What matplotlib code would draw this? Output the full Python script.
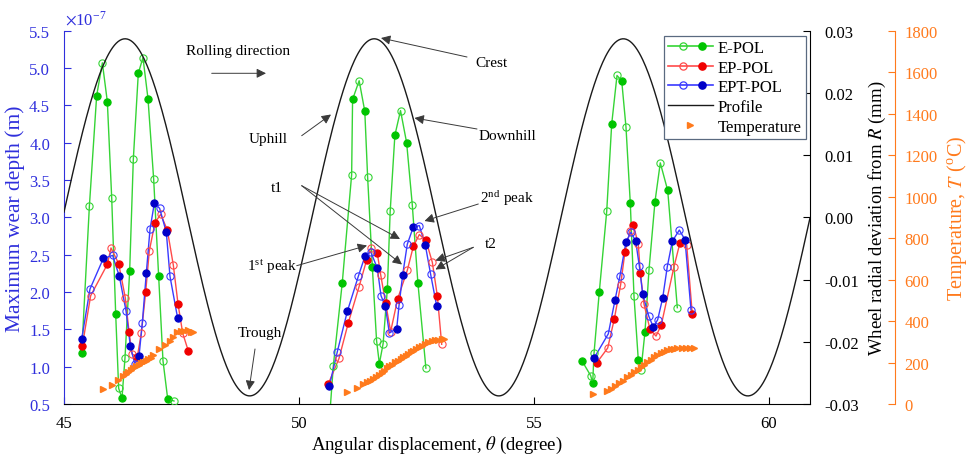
import numpy as np
import matplotlib
matplotlib.use("Agg")
import matplotlib.pyplot as plt
from matplotlib.lines import Line2D
from matplotlib.legend_handler import HandlerBase

plt.rcParams['font.family'] = ['Liberation Serif', 'DejaVu Serif']
plt.rcParams['mathtext.fontset'] = 'stix'
plt.rcParams['axes.unicode_minus'] = False

# ---------------- data (wear depth in units of 1e-7 m) ----------------
epol_theta = [
    [45.376, 45.54, 45.695, 45.816, 45.922, 46.015, 46.1, 46.163, 46.234, 46.298,
     46.397, 46.475, 46.581, 46.68, 46.787, 46.908, 47.014, 47.106, 47.206, 47.34],
    [50.66, 50.73, 50.92, 51.12, 51.14, 51.28, 51.40, 51.46, 51.56, 51.65,
     51.71, 51.79, 51.88, 51.94, 52.04, 52.16, 52.29, 52.41, 52.53, 52.70],
    [56.028, 56.206, 56.249, 56.277, 56.389, 56.547, 56.653, 56.766, 56.866, 56.957,
     57.049, 57.128, 57.219, 57.277, 57.362, 57.447, 57.574, 57.687, 57.845, 58.049],
]
epol_wear = [
    [1.18, 3.15, 4.63, 5.07, 4.55, 3.26, 1.70, 0.71, 0.58, 1.12,
     2.28, 3.78, 4.93, 5.14, 4.59, 3.51, 2.21, 1.08, 0.57, 0.54],
    [0.40, 1.01, 2.12, 3.57, 4.58, 4.83, 4.42, 3.54, 2.34, 1.35,
     1.04, 1.31, 2.04, 3.08, 4.10, 4.43, 4.00, 3.17, 2.12, 0.98],
    [1.07, 0.88, 0.78, 1.18, 2.00, 3.08, 4.25, 4.90, 4.83, 4.21,
     3.19, 1.94, 1.09, 0.96, 1.47, 2.30, 3.21, 3.73, 3.36, 1.79],
]

eppol_theta = [
    [45.39, 45.567, 45.922, 46.0, 46.163, 46.305, 46.383, 46.447, 46.56, 46.645,
     46.738, 46.815, 46.936, 47.057, 47.199, 47.326, 47.426, 47.525, 47.645],
    [50.624, 50.851, 51.05, 51.277, 51.44, 51.525, 51.666, 51.738, 51.844, 51.95,
     52.10, 52.304, 52.432, 52.56, 52.702, 52.836, 52.943, 53.036],
    [56.333, 56.568, 56.709, 56.844, 56.936, 57.043, 57.113, 57.219, 57.262, 57.34,
     57.468, 57.596, 57.709, 57.979, 58.106, 58.249, 58.368],
]
eppol_wear = [
    [1.28, 1.95, 2.37, 2.59, 2.38, 1.92, 1.47, 1.17, 1.13, 1.45,
     2.00, 2.55, 2.93, 3.04, 2.83, 2.36, 1.84, 1.45, 1.21],
    [0.77, 1.11, 1.59, 2.07, 2.43, 2.59, 2.52, 2.23, 1.85, 1.47,
     1.91, 2.29, 2.61, 2.77, 2.69, 2.40, 1.95, 1.30],
    [1.05, 1.25, 1.64, 2.10, 2.54, 2.82, 2.90, 2.64, 2.26, 1.84,
     1.50, 1.41, 1.56, 2.34, 2.66, 2.63, 1.70],
]

eptpol_theta = [
    [45.376, 45.553, 45.837, 46.035, 46.177, 46.319, 46.411, 46.504, 46.596, 46.667,
     46.752, 46.83, 46.922, 47.035, 47.177, 47.255, 47.418],
    [50.645, 50.815, 51.028, 51.262, 51.404, 51.525, 51.666, 51.745, 51.837, 51.922,
     52.079, 52.128, 52.206, 52.304, 52.432, 52.56, 52.687, 52.80, 52.93],
    [56.283, 56.581, 56.723, 56.83, 56.957, 57.064, 57.164, 57.241, 57.313, 57.44,
     57.539, 57.632, 57.738, 57.836, 57.943, 58.092, 58.213, 58.34],
]
eptpol_wear = [
    [1.37, 2.04, 2.45, 2.49, 2.21, 1.75, 1.28, 1.04, 1.14, 1.59,
     2.26, 2.84, 3.19, 3.12, 2.80, 2.21, 1.65],
    [0.74, 1.20, 1.74, 2.21, 2.48, 2.54, 2.32, 1.95, 1.81, 1.45,
     1.51, 1.82, 2.23, 2.64, 2.87, 2.89, 2.63, 2.24, 1.81],
    [1.12, 1.44, 1.89, 2.22, 2.67, 2.80, 2.68, 2.35, 1.97, 1.68,
     1.53, 1.63, 1.92, 2.34, 2.68, 2.83, 2.70, 1.76],
]

temp_theta = [
    [45.823, 46.015, 46.156, 46.262, 46.319, 46.369, 46.426, 46.475, 46.532, 46.589,
     46.638, 46.687, 46.745, 46.794, 46.844, 46.901, 47.028, 47.149, 47.255, 47.326,
     47.411, 47.482, 47.553, 47.631, 47.695, 47.751],
    [51.015, 51.241, 51.355, 51.44, 51.51, 51.581, 51.638, 51.709, 51.759, 51.809,
     51.866, 51.922, 51.972, 52.043, 52.113, 52.164, 52.22, 52.277, 52.326, 52.377,
     52.432, 52.489, 52.546, 52.61, 52.681, 52.751, 52.823, 52.894, 52.964, 53.036, 53.085],
    [56.262, 56.547, 56.632, 56.723, 56.815, 56.9, 56.985, 57.064, 57.134, 57.206,
     57.277, 57.34, 57.411, 57.483, 57.553, 57.623, 57.696, 57.766, 57.836, 57.909,
     57.979, 58.049, 58.142, 58.234, 58.319, 58.404],
]
temp_value = [
    [72, 92, 117, 133, 145, 153, 162, 172, 182, 188,
     198, 204, 209, 217, 223, 236, 265, 286, 305, 321,
     346, 350, 350, 355, 346, 349],
    [59, 76, 96, 105, 112, 121, 132, 141, 149, 158,
     172, 185, 190, 201, 207, 217, 225, 233, 241, 249,
     257, 265, 273, 281, 289, 297, 304, 307, 310, 313, 313],
    [48, 64, 72, 88, 100, 112, 129, 141, 153, 165,
     177, 190, 201, 214, 225, 236, 244, 252, 259, 264,
     267, 269, 269, 269, 270, 270],
]

# wheel profile (polygonal wear wave): amplitude (mm), wavelength (deg), crest position (deg)
profile_amplitude = 0.0287
profile_wavelength = 5.3
profile_crest = 46.3

x_ticks = [45, 50, 55, 60]
wear_ticks = [0.5, 1.0, 1.5, 2.0, 2.5, 3.0, 3.5, 4.0, 4.5, 5.0, 5.5]
dev_ticks = [-0.03, -0.02, -0.01, 0.00, 0.01, 0.02, 0.03]
temp_ticks = [0, 200, 400, 600, 800, 1000, 1200, 1400, 1600, 1800]

# ---------------- styling ----------------
W, H = 968, 460
GREEN_L, GREEN_M = '#35d435', '#00c400'
RED_L, RED_M = '#ff4a4a', '#f00000'
BLUE_L, BLUE_M = '#3a3aff', '#0000c8'
ORANGE = '#ff7a1c'
AXBLUE = '#2f2fdc'
FS = 12
MS = 5.2

fig = plt.figure(figsize=(W / 100, H / 100), dpi=100)
ax = fig.add_axes([64 / W, 1 - 405 / H, (810 - 64) / W, (405 - 31.7) / H])
ax2 = ax.twinx()
ax3 = ax.twinx()

def draw_series(thetas, wears, lc, mc):
    h = None
    for th, wv in zip(thetas, wears):
        th = np.asarray(th); wv = np.asarray(wv)
        h, = ax.plot(th, wv, '-', color=lc, lw=1.0, zorder=2)
        ax.plot(th[0::2], wv[0::2], 'o', ls='none', ms=MS, mfc=mc, mec=mc, mew=0.8, zorder=3)
        ax.plot(th[1::2], wv[1::2], 'o', ls='none', ms=MS, mfc='none', mec=lc, mew=0.8, zorder=3)
    return h

h_e = draw_series(epol_theta, epol_wear, GREEN_L, GREEN_M)
h_ep = draw_series(eppol_theta, eppol_wear, RED_L, RED_M)
h_ept = draw_series(eptpol_theta, eptpol_wear, BLUE_L, BLUE_M)

ax.set_xlim(45, 45 + (810 - 64) / 47)
ax.set_ylim(0.5, 5.5)
ax.set_xticks(x_ticks)
ax.set_yticks(wear_ticks)
ax.set_yticklabels(['%.1f' % v for v in wear_ticks])
ax.tick_params(axis='x', direction='in', length=5, labelsize=FS, pad=8, colors='black')
ax.tick_params(axis='y', direction='in', length=5, labelsize=FS, pad=10, colors=AXBLUE)
ax.spines['left'].set_color(AXBLUE)
ax.spines['top'].set_visible(False)
ax.spines['right'].set_visible(False)
ax.set_xlabel(r'Angular displacement, $\theta$ (degree)', fontsize=13.5, labelpad=2)
ax.set_ylabel('Maximum wear depth (m)', fontsize=15.5, color=AXBLUE, labelpad=3)
fig.text(65 / W, 1 - 29 / H, r'$\times$10$^{\mathregular{-7}}$', color=AXBLUE, fontsize=12, va='bottom', ha='left')

# profile
theta_grid = np.linspace(45, 45 + (810 - 64) / 47, 800)
profile = profile_amplitude * np.cos(2 * np.pi * (theta_grid - profile_crest) / profile_wavelength)
h_prof, = ax2.plot(theta_grid, profile, color='#1a1a1a', lw=1.0)
ax2.set_ylim(-0.03, 0.03)
ax2.set_yticks(dev_ticks)
ax2.set_yticklabels(['%.2f' % v for v in dev_ticks])
ax2.tick_params(axis='y', direction='in', length=5, labelsize=FS, pad=10, colors='black')
for s in ['top', 'left', 'bottom']:
    ax2.spines[s].set_visible(False)
ax2.set_ylabel(r'Wheel radial deviation from $R$ (mm)', fontsize=13.5, labelpad=6)

# temperature
ax3.spines['right'].set_position(('axes', (895 - 64) / (810 - 64)))
for s in ['top', 'left', 'bottom']:
    ax3.spines[s].set_visible(False)
ax3.spines['right'].set_color(ORANGE)
h_temp = None
for th, tv in zip(temp_theta, temp_value):
    h_temp, = ax3.plot(th, tv, '>', ls='none', ms=4.6, color=ORANGE, mec=ORANGE)
ax3.set_ylim(0, 1800)
ax3.set_yticks(temp_ticks)
ax3.tick_params(axis='y', direction='in', length=5, labelsize=FS, pad=7, colors=ORANGE)
ax3.set_ylabel(r'Temperature, $T$ ($^{\mathregular{o}}$C)', fontsize=14.5, color=ORANGE, labelpad=5)

# legend
class TwoMarkerHandler(HandlerBase):
    def __init__(self, lc, mc):
        super().__init__()
        self.lc, self.mc = lc, mc
    def create_artists(self, legend, orig_handle, xdescent, ydescent, width, height, fontsize, trans):
        y = height / 2 - ydescent
        x0 = -xdescent
        ln = Line2D([x0, x0 + width], [y, y], color=self.lc, lw=1.2)
        m1 = Line2D([x0 + width * 0.33], [y], marker='o', ms=MS, mfc='none', mec=self.lc, mew=0.9, ls='none')
        m2 = Line2D([x0 + width * 0.75], [y], marker='o', ms=MS, mfc=self.mc, mec=self.mc, ls='none')
        for a in (ln, m1, m2):
            a.set_transform(trans)
        return [ln, m1, m2]

leg = ax3.legend([h_e, h_ep, h_ept, h_prof, h_temp],
                 ['E-POL', 'EP-POL', 'EPT-POL', 'Profile', 'Temperature'],
                 handler_map={h_e: TwoMarkerHandler(GREEN_L, GREEN_M),
                              h_ep: TwoMarkerHandler(RED_L, RED_M),
                              h_ept: TwoMarkerHandler(BLUE_L, BLUE_M)},
                 loc='upper right', bbox_to_anchor=(806 / W, 1 - 36.7 / H),
                 bbox_transform=fig.transFigure, borderaxespad=0, fontsize=FS,
                 handlelength=2.7, handletextpad=0.3, borderpad=0.25, labelspacing=0.22,
                 fancybox=False, framealpha=1, edgecolor='#5a6a80')
leg.get_frame().set_linewidth(0.9)
leg.set_zorder(10)

# annotations (positions in figure pixels)
def P(x, y):
    return (x / W, 1 - y / H)

arrow_kw = dict(arrowstyle='-|>', color='#3a3a3a', lw=0.7, mutation_scale=14, shrinkA=0, shrinkB=0)

def note(text, tpos, targets, tail):
    fig.text(*P(*tpos), text, fontsize=11, ha='center', va='center')
    for t in targets:
        ax3.annotate('', xy=P(*t), xycoords='figure fraction', xytext=P(*tail),
                     textcoords='figure fraction', arrowprops=arrow_kw)

note('Rolling direction', (237.7, 51.7), [(266, 74.3)], (211.7, 74.3))
note('Crest', (491, 63.5), [(381, 39)], (467, 58))
note('Uphill', (268.3, 140), [(331, 115.5)], (301.7, 136.7))
note('Downhill', (507.5, 136), [(414.5, 119)], (477, 130))
note('t1', (276.7, 188.3), [(400, 240), (402, 265.5)], (301.7, 186.7))
note(r'2$^{\mathregular{nd}}$ peak', (506.7, 198.3), [(424.5, 222)], (478.3, 205))
note('t2', (491, 245), [(435.5, 261.5), (435.5, 270.5)], (473.3, 248.3))
note(r'1$^{\mathregular{st}}$ peak', (272, 266.7), [(367, 246.5)], (296.7, 266.7))
note('Trough', (259.5, 334), [(249, 391)], (255, 350))

fig.savefig('out.png', dpi=100)
